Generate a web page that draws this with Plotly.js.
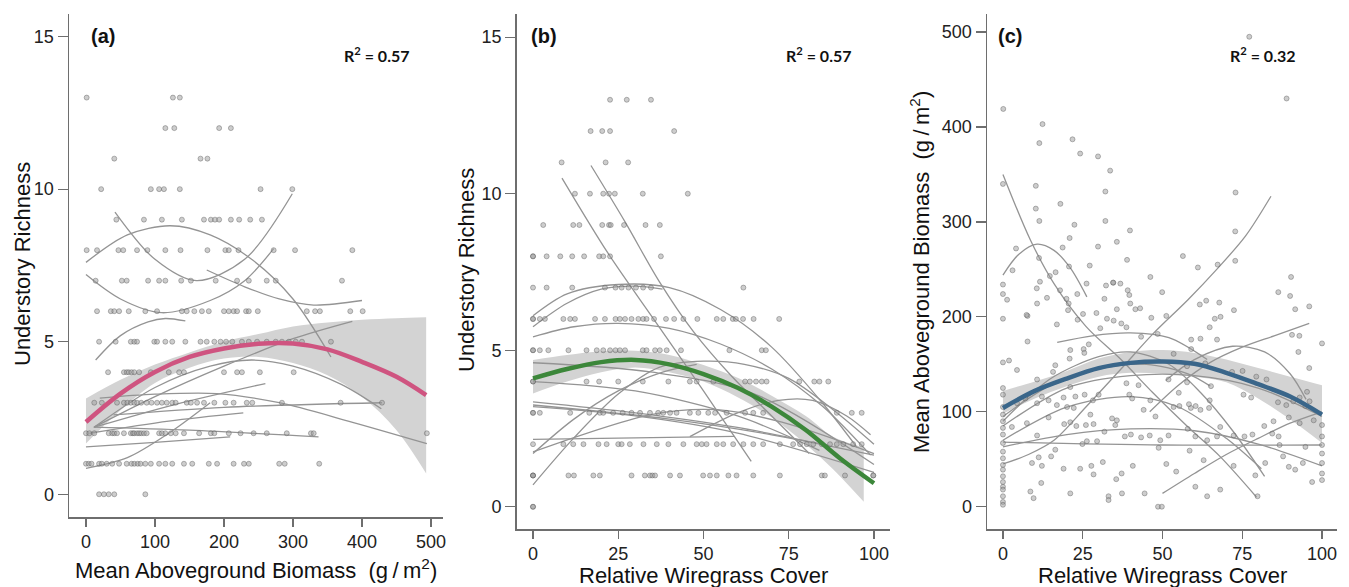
<!DOCTYPE html>
<html>
<head>
<meta charset="utf-8">
<script src="https://cdn.plot.ly/plotly-3.0.1.min.js"></script>
<style>html,body{margin:0;padding:0;background:#fff;}#chart{width:1349px;height:587px;}</style>
</head>
<body>
<div id="chart"></div>
<script>
// ---------- Panel (a): Understory richness vs mean aboveground biomass ----------
const aRowY = [13, 12, 11, 10, 9, 8, 7, 6, 5, 4, 3, 2, 1, 0];
const aRowX = [
  [1, 126, 136],
  [115, 128, 193, 210],
  [41, 166, 176],
  [22, 94, 106, 113, 136, 253, 299],
  [44, 84, 110, 139, 171, 181, 187, 193, 210, 222, 238, 255],
  [1, 16, 47, 54, 74, 89, 115, 137, 176, 202, 207, 221, 272, 303, 386],
  [14, 52, 59, 90, 106, 115, 138, 152, 188, 219, 236, 262, 275, 371],
  [16, 36, 41, 48, 62, 86, 103, 139, 146, 157, 168, 178, 200, 207, 214, 219, 232, 236, 249, 320, 332, 339, 383, 401],
  [19, 43, 65, 70, 74, 99, 103, 115, 125, 144, 166, 175, 186, 195, 203, 212, 226, 236, 248, 262, 275, 284, 294, 304, 313, 355],
  [32, 55, 59, 62, 66, 70, 77, 94, 120, 135, 142, 200, 219, 226, 252, 301],
  [12, 23, 45, 55, 60, 65, 70, 74, 80, 88, 95, 103, 110, 117, 125, 130, 146, 152, 161, 171, 186, 202, 214, 233, 241, 284, 369, 429],
  [0, 5, 12, 33, 38, 41, 45, 55, 65, 68, 70, 74, 77, 80, 84, 88, 106, 110, 115, 123, 130, 142, 164, 181, 186, 207, 224, 243, 262, 291, 326, 330, 494],
  [0, 4, 8, 19, 23, 30, 38, 48, 59, 66, 70, 75, 79, 86, 94, 106, 115, 125, 142, 154, 178, 190, 214, 229, 236, 280, 288, 338],
  [19, 26, 33, 41, 86]
];
const aCurvesX = [
  [0, 60, 122, 180, 240, 300, 355],
  [42, 100, 160, 230, 299],
  [0, 50, 110, 180, 230, 272],
  [175, 230, 280, 330, 400],
  [14, 50, 90, 115, 144],
  [12, 100, 200, 300, 386],
  [12, 100, 180, 240, 300, 370, 428],
  [20, 100, 190, 280, 380, 494],
  [12, 130, 260],
  [40, 200, 429],
  [5, 120, 228],
  [0, 100, 209],
  [11, 150, 337],
  [0, 60, 120, 180]
];
const aCurvesY = [
  [7.6, 8.5, 8.8, 8.5, 7.7, 6.4, 4.5],
  [9.25, 7.7, 7.0, 7.7, 9.85],
  [7.2, 6.4, 5.95, 6.35, 7.0, 8.05],
  [7.35, 6.8, 6.4, 6.2, 6.35],
  [4.4, 5.2, 5.65, 5.76, 5.68],
  [2.2, 3.2, 4.2, 5.1, 5.67],
  [2.2, 3.5, 4.2, 4.4, 4.2, 3.6, 2.8],
  [3.15, 3.28, 3.3, 3.0, 2.4, 1.66],
  [2.2, 2.95, 3.63],
  [2.6, 2.85, 3.0],
  [2.0, 2.4, 2.67],
  [1.55, 1.7, 1.88],
  [2.2, 2.1, 1.88],
  [0.85, 1.2, 2.0, 3.0]
];
const aFitX = [0, 50, 100, 150, 200, 250, 300, 350, 400, 450, 493];
const aFitY = [2.37, 3.3, 4.01, 4.5, 4.78, 4.93, 4.94, 4.75, 4.34, 3.85, 3.25];
const aBandHi = [3.14, 3.75, 4.25, 4.65, 5.0, 5.25, 5.5, 5.63, 5.72, 5.77, 5.8];
const aBandLo = [1.66, 2.75, 3.65, 4.15, 4.45, 4.5, 4.3, 3.9, 3.2, 2.1, 0.68];

// ---------- Panel (b): Understory richness vs relative wiregrass cover ----------
const bRowY = [13, 12, 11, 10, 9, 8, 7, 6, 5, 4, 3, 2, 1, 0];
const bRowX = [
  [22.6, 27.5, 34.6],
  [16.9, 20.3, 22.6, 41.4],
  [8.4, 21.3, 27.9],
  [12.3, 16.7, 20.6, 22.3, 24.0, 32.2, 45.4],
  [3.0, 11.8, 13.6, 20.3, 22.3, 22.8, 26.7, 33.0, 37.2],
  [0, 0, 4, 8, 11.5, 15, 19.4, 20.6, 22.6, 37.5],
  [0, 4, 11.5, 21.1, 24.2, 26, 28, 30.2, 32.3, 34.6, 61.7],
  [0, 0, 2, 3.5, 8.9, 10.9, 12.3, 18.2, 21.1, 24.2, 25.5, 27, 28.9, 30.9, 32.3, 33.3, 35.5, 39, 41.4, 44.1, 48.2, 53.9, 55.8, 58.6, 59.5, 61.6, 64.7, 72.2],
  [0, 0, 2, 4.5, 10.4, 15.7, 18.7, 20.6, 22.6, 24.2, 25.5, 27, 32.2, 33.3, 35.8, 37.2, 39.2, 43.4, 57.6, 67.1, 68.3],
  [0, 0, 15.7, 19.4, 25, 32.2, 39.7, 46, 48, 52.9, 62.2, 63.6, 65.4, 67.1, 68.5, 78.1, 82.5, 84, 86.6],
  [0, 0, 2, 10.9, 16.5, 19.6, 20.6, 23.5, 26.3, 28.9, 31.4, 34.3, 36.7, 38.2, 40.2, 42.1, 46, 48.5, 51.4, 53.4, 56.8, 62.2, 64.6, 67.5, 89.1, 93.5, 96.4],
  [0, 8.9, 11.8, 14.8, 19.2, 21.6, 25.0, 26, 28.4, 32.4, 36.3, 39.7, 44.1, 48, 49.5, 50.9, 53.9, 55.8, 58.7, 61.7, 64.6, 67.5, 72.4, 76.3, 78.3, 80.3, 82.2, 84.7, 87.1, 89.1, 91, 93.9, 96.4],
  [0, 0, 0, 10.4, 12, 17.7, 19.6, 28.9, 32.8, 34.3, 35.0, 35.8, 40.2, 43.1, 49.9, 51.9, 53.9, 57.3, 59.7, 64.6, 72.4, 84.7, 85.6, 91.5, 99.8, 99.8],
  [0, 0]
];
const bCurvesX = [
  [8.5, 22, 36, 50, 64],
  [17, 27, 37, 47, 58, 70, 81],
  [0, 10, 25, 40, 55, 70, 85, 95],
  [0, 10, 20, 30, 38],
  [0, 12, 25, 40, 55, 70, 85, 99],
  [0, 35, 65, 100],
  [0, 30, 60, 84],
  [0, 40, 70, 100],
  [0, 30, 59, 87],
  [0, 12, 25, 37, 50, 62, 75, 88, 100],
  [0, 12, 25, 38, 48],
  [0, 30, 59],
  [0, 35, 54, 73, 100],
  [46, 60, 72, 82, 92, 99],
  [0, 30, 60, 100]
];
const bCurvesY = [
  [10.5, 8.1, 5.9, 3.7, 1.45],
  [10.9, 9.1, 7.2, 5.6, 4.2, 2.9, 1.7],
  [6.1, 6.8, 7.1, 7.0, 6.3, 5.1, 3.3, 1.9],
  [5.75, 6.5, 6.95, 7.05, 6.95],
  [5.43, 5.75, 5.86, 5.7, 5.2, 4.4, 3.2, 1.65],
  [4.6, 4.3, 3.6, 1.35],
  [4.0, 3.7, 2.9, 1.8],
  [3.25, 2.8, 2.3, 1.65],
  [3.35, 3.0, 2.55, 1.95],
  [0.7, 2.2, 3.6, 4.45, 4.65, 4.55, 4.1, 3.1, 2.0],
  [1.7, 2.8, 3.7, 4.3, 4.55],
  [2.15, 2.2, 2.25],
  [1.75, 2.95, 3.1, 2.7, 1.7],
  [2.24, 3.0, 3.4, 3.4, 2.9, 2.3],
  [3.2, 2.9, 2.35, 1.1]
];
const bFitX = [0, 10, 20, 30, 40, 50, 60, 70, 80, 90, 100];
const bFitY = [4.1, 4.4, 4.62, 4.69, 4.55, 4.24, 3.8, 3.2, 2.45, 1.55, 0.75];
const bBandX = [0, 10, 20, 30, 40, 50, 60, 70, 80, 88, 97];
const bBandHi = [4.69, 4.85, 4.97, 4.98, 4.85, 4.53, 4.12, 3.55, 2.9, 2.24, 1.9];
const bBandLo = [3.62, 4.0, 4.3, 4.45, 4.3, 4.0, 3.5, 2.85, 2.0, 1.2, 0.16];

// ---------- Panel (c): Mean aboveground biomass vs relative wiregrass cover ----------
const cPtsX = [77.2,88.9,0.1,12.4,11.4,21.8,24.2,29.8,33.6,0,10.3,32.1,72.9,10.3,18,11.4,32.1,22.4,39.8,72.8,4.1,18.7,29.8,35.7,20.9,56.4,72.8,11.3,38.9,3,16.5,20.7,27.2,61.1,67.3,46.2,90.3,14.7,0,11.6,26.2,32.3,36.8,34.6,39.1,86.3,49.9,0,10.6,17.9,23.3,
  1.3,0,13.8,10.7,7.7,16.9,7.7,0,1.9,4.4,19.9,20.6,20.4,25.1,23.4,29.3,31.8,34.5,32.6,34.7,37.1,38.7,35.7,39.6,39.9,41.5,43,46.5,51.2,48.5,43.3,30.5,21.1,25.3,26.9,25.5,20.9,53.5,59,61.9,59,61.7,63.7,67.8,67.1,64.8,66.4,68.2,72.4,90,91.6,96,90.6,92.9,100,92.6,96,75.1,15.7,79.4,
  10.7,16.4,0,0,0,0,0,0,0,0,0,0,0,0,0,0,0,0,0,0,0,
  2.8,7.5,10.7,11.2,9.1,12.2,15.1,16.4,12,8.6,9.6,14.3,19.2,21.1,23,26,28.4,19,21.1,24.2,27.7,28.4,31.3,33.1,33.1,35.5,37.2,37.3,40.7,44.4,48.6,49.8,48.8,51.2,54.3,53.5,55.3,58.9,58.3,60.4,61.9,64.6,64.8,44.1,47.8,57.7,55.1,57.9,60.3,58.5,60.3,64,68.1,72.3,77.8,82.6,78.2,81.9,84.8,84.4,79.1,79.8,82.2,86.7,87.8,89.6,91.6,94,96.9,100,89.6,91,93,96.1,97.4,100,100,100,100,100,100,94.8,93,86.4,75.7,72.3,68.1,67.1,64,62.9,51.9,49.3,46,43.3,40.1,38.2,35.2,34.2,35.7,31.8,29.5,26.3,24.9,30,28.2,25.6,21.1,22.7,19,20.1,16.9,14.3,12.2,10.7,7,4.4,22.2,27.4,39.6,40.5,42.5,38.7,46.2,51.9,57.7,63.4,65.2,71.8,75.4,86.2,88.8,94.8,95.3,7.4];
const cPtsY = [495,430,419,403,383,387,372,369,354,340,338,332,331,314,319,301,301,297,291,290,272,273,274,279,283,264,259,262,260,249,247,253,254,252,255,242,242,243,234,237,235,233,235,236,228,226,226,224,230,228,224,
  218,198,220,214,201,192,174,152,154,144,219,214,207,203,197,204,219,236,198,196,193,189,208,223,214,208,209,199,201,182,179,188,165,166,171,162,156,161,176,177,166,213,217,215,176,189,198,200,207,222,208,211,181,180,172,163,146,143,142,137,
  134,149,125,118,105,97,90,83,76,67,58,51,44,39,32,26,21,18,11,5,2,
  84,88,75,52,46,43,53,60,25,16,9,94,87,89,85,86,87,40,14,40,43,34,47,11,7,29,35,14,43,14,0,0,62,45,37,105,106,104,108,106,102,104,112,102,95,131,120,82,74,59,21,11,18,43,115,134,76,85,90,77,33,11,46,65,53,42,39,46,26,28,94,111,115,111,91,86,74,65,56,46,35,63,88,74,74,75,84,74,70,49,75,70,75,73,76,74,86,93,91,79,69,69,66,118,112,118,126,116,115,105,107,112,116,109,114,109,104,97,118,114,128,130,112,134,148,151,127,142,118,110,107,106,121,202];
const cCurvesX = [
  [0, 8.6, 16, 26, 37, 47, 58, 68, 79.5],
  [0, 5, 10.7, 16, 21, 26.3],
  [0, 8, 16, 26, 37, 47, 58, 67, 76, 84],
  [17, 28, 40, 52, 64],
  [46, 55, 65, 75, 85, 96],
  [51, 60, 72, 82, 90, 95],
  [0, 50, 100],
  [0, 20, 40, 60, 80, 100],
  [50, 60, 70, 80, 90, 100],
  [0, 20, 40, 55, 70, 81],
  [0, 15, 30, 40, 52, 62, 72, 82],
  [0, 15, 30, 45, 58, 65],
  [0, 20, 40, 60, 80, 100]
];
const cCurvesY = [
  [350, 281, 235, 190, 155, 120, 84, 53, 10],
  [244, 266, 276.5, 270, 252, 221],
  [45, 55, 70, 105, 145, 182, 218, 250, 285, 327],
  [173, 180, 183, 178, 155],
  [100, 128, 152, 168, 180, 193],
  [133, 155, 169, 163, 140, 113],
  [68, 65, 65],
  [63, 76, 82, 80, 66, 43],
  [14, 35, 55, 72, 88, 100],
  [70, 105, 116, 105, 72, 40],
  [90, 135, 158, 163, 150, 120, 80, 32],
  [95, 128, 145, 150, 140, 127],
  [85, 125, 138, 138, 125, 95]
];
const cFitX = [0, 10, 20, 30, 40, 50, 60, 70, 80, 90, 100];
const cFitY = [104, 122, 135, 146, 151.5, 153, 150.5, 141, 129, 116, 97];
const cBandHi = [122, 132, 143, 156, 163, 165, 162, 155, 146, 137, 128];
const cBandLo = [98, 114, 127, 137, 141, 140, 137, 131, 114, 92, 67];

// ---------- helpers ----------
function flattenRows(rowY, rowX) {
  const xs = [], ys = [];
  rowX.forEach((row, i) => row.forEach(v => { xs.push(v); ys.push(rowY[i]); }));
  return {x: xs, y: ys};
}
const W = 1349, H = 587;
const px = v => v / W;
const py = v => 1 - v / H;

const ptMarker = {size: 5, color: 'rgba(155,155,155,0.5)', line: {width: 0.8, color: 'rgba(85,85,85,0.5)'}};
const curveLine = {color: 'rgb(148,148,148)', width: 1.3, shape: 'spline', smoothing: 0.9};
const bandColor = 'rgb(211,211,211)';

const traces = [];
function addPanel(xa, ya, bandX, hi, lo, curvesX, curvesY, pts, fitX, fitY, fitColor) {
  traces.push({x: bandX, y: hi, xaxis: xa, yaxis: ya, mode: 'lines', line: {width: 0, shape: 'spline'}, hoverinfo: 'skip', showlegend: false});
  traces.push({x: bandX, y: lo, xaxis: xa, yaxis: ya, mode: 'lines', line: {width: 0, shape: 'spline'}, fill: 'tonexty', fillcolor: bandColor, hoverinfo: 'skip', showlegend: false});
  curvesX.forEach((cx, i) => traces.push({x: cx, y: curvesY[i], xaxis: xa, yaxis: ya, mode: 'lines', line: curveLine, showlegend: false}));
  traces.push({x: pts.x, y: pts.y, xaxis: xa, yaxis: ya, mode: 'markers', marker: ptMarker, showlegend: false});
  traces.push({x: fitX, y: fitY, xaxis: xa, yaxis: ya, mode: 'lines', line: {color: fitColor, width: 4.5, shape: 'spline'}, showlegend: false});
}
addPanel('x', 'y', aFitX, aBandHi, aBandLo, aCurvesX, aCurvesY, flattenRows(aRowY, aRowX), aFitX, aFitY, 'rgb(207,84,128)');
addPanel('x2', 'y2', bBandX, bBandHi, bBandLo, bCurvesX, bCurvesY, flattenRows(bRowY, bRowX), bFitX, bFitY, 'rgb(60,135,58)');
addPanel('x3', 'y3', cFitX, cBandHi, cBandLo, cCurvesX, cCurvesY, {x: cPtsX, y: cPtsY}, cFitX, cFitY, 'rgb(58,102,138)');

const tickFont = {family: 'Liberation Sans, Arial, sans-serif', size: 18, color: '#222'};
function axis(extra) {
  return Object.assign({showline: true, linecolor: '#6e6e6e', linewidth: 1.5, ticks: 'outside', tickcolor: '#6e6e6e', tickwidth: 1.2, ticklen: 8,
    showgrid: false, zeroline: false, tickfont: tickFont, fixedrange: true}, extra);
}
const titleFont = {family: 'Liberation Sans, Arial, sans-serif', size: 22, color: '#111'};
const labFont = {family: 'Liberation Sans, Arial, sans-serif', size: 20, color: '#111'};
const r2Font = {family: 'Lato, Open Sans, sans-serif', size: 16, color: '#111'};
function ann(x, y, text, font, angle) {
  return {xref: 'paper', yref: 'paper', x: px(x), y: py(y), text: text, showarrow: false, font: font, xanchor: 'center', yanchor: 'middle', textangle: angle || 0};
}
const unit = '(g\u2009/\u2009m<sup>2</sup>)';

const layout = {
  width: W, height: H, margin: {l: 0, r: 0, t: 0, b: 0}, paper_bgcolor: '#fff', plot_bgcolor: 'rgba(0,0,0,0)',
  showlegend: false,
  xaxis: axis({domain: [px(69), px(443)], range: [-24.6, 517.4], tickvals: [0, 100, 200, 300, 400, 500], anchor: 'y'}),
  yaxis: axis({domain: [py(517), py(14)], range: [-0.745, 15.74], tickvals: [0, 5, 10, 15], ticklen: 10, anchor: 'x'}),
  xaxis2: axis({domain: [px(516.7), px(890)], range: [-4.78, 104.7], tickvals: [0, 25, 50, 75, 100], anchor: 'y2'}),
  yaxis2: axis({domain: [py(529), py(14)], range: [-0.71, 15.74], tickvals: [0, 5, 10, 15], ticklen: 10, anchor: 'x2'}),
  xaxis3: axis({domain: [px(987), px(1337)], range: [-5.0, 104.7], tickvals: [0, 25, 50, 75, 100], anchor: 'y3'}),
  yaxis3: axis({domain: [py(529), py(14)], range: [-23.5, 519], tickvals: [0, 100, 200, 300, 400, 500], ticklen: 10, anchor: 'x3'}),
  annotations: [
    ann(256, 569, 'Mean Aboveground Biomass\u00a0\u00a0' + unit, titleFont),
    ann(703, 575, 'Relative Wiregrass Cover', titleFont),
    ann(1162, 575, 'Relative Wiregrass Cover', titleFont),
    ann(22, 264, 'Understory Richness', titleFont, -90),
    ann(466, 270, 'Understory Richness', titleFont, -90),
    ann(920, 272, 'Mean Aboveground Biomass\u00a0\u00a0' + unit, titleFont, -90),
    ann(103, 36, '<b>(a)</b>', labFont),
    ann(544, 36, '<b>(b)</b>', labFont),
    ann(1010, 36, '<b>(c)</b>', labFont),
    ann(377, 55, '<b>R<sup>2</sup> = 0.57</b>', r2Font),
    ann(819, 55, '<b>R<sup>2</sup> = 0.57</b>', r2Font),
    ann(1263, 55, '<b>R<sup>2</sup> = 0.32</b>', r2Font)
  ]
};
Plotly.newPlot('chart', traces, layout, {staticPlot: true, displayModeBar: false});
</script>
</body>
</html>
